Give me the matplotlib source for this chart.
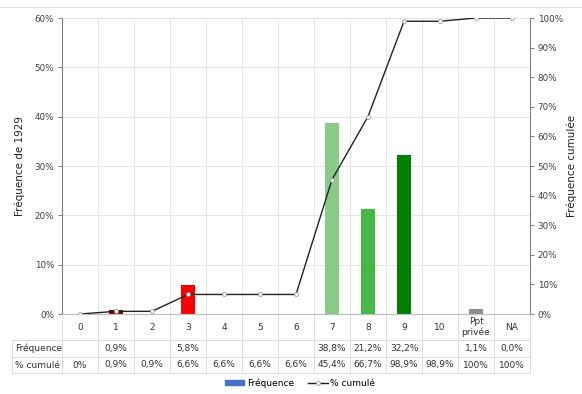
import matplotlib
matplotlib.use("Agg")
import matplotlib.pyplot as plt
from matplotlib.transforms import blended_transform_factory
from matplotlib.lines import Line2D
from matplotlib.patches import Patch

categories = ["0", "1", "2", "3", "4", "5", "6", "7", "8", "9", "10", "Ppt\nprivée", "NA"]
freq = [None, 0.9, None, 5.8, None, None, None, 38.8, 21.2, 32.2, None, 1.1, 0.0]
cumul = [0.0, 0.9, 0.9, 6.6, 6.6, 6.6, 6.6, 45.4, 66.7, 98.9, 98.9, 100.0, 100.0]
freq_labels = ["", "0,9%", "", "5,8%", "", "", "", "38,8%", "21,2%", "32,2%", "", "1,1%", "0,0%"]
cumul_labels = ["0%", "0,9%", "0,9%", "6,6%", "6,6%", "6,6%", "6,6%", "45,4%", "66,7%", "98,9%", "98,9%", "100%", "100%"]
bar_colors = ["#ffffff", "#7f0000", "#ffffff", "#ff0000", "#ffffff", "#ffffff", "#ffffff",
              "#88cc88", "#44b844", "#008000", "#ffffff", "#8c8c8c", "#ffffff"]

W, H = 582, 394
fig = plt.figure(figsize=(W / 100, H / 100), dpi=100)
fig.patch.set_facecolor("white")
left, right, top, bottom = 62, 530, 18, 314
ax = fig.add_axes([left / W, (H - bottom) / H, (right - left) / W, (bottom - top) / H])
ax2 = ax.twinx()

n = len(categories)
xs = list(range(n))
ax.set_xlim(-0.5, n - 0.5)
ax.set_ylim(0, 60)
ax2.set_ylim(0, 100)

# grid
for v in range(10, 61, 10):
    ax.axhline(v, color="#e6e6e6", lw=0.7, zorder=0)
for b in range(n + 1):
    ax.axvline(b - 0.5, color="#e6e6e6", lw=0.7, zorder=0)

for x, f, c in zip(xs, freq, bar_colors):
    if f is not None and f > 0:
        ax.bar(x, f, width=0.4, color=c, zorder=2)

ax2.plot(xs, cumul, color="#222222", lw=1.0, marker="o", ms=2.8,
         mfc="white", mec="#999999", mew=0.6, zorder=3)

tick_kw = dict(labelsize=6.3, labelcolor="#404040", color="#808080", length=3, width=0.7, pad=2.5)
ax.set_yticks(range(0, 61, 10))
ax.set_yticklabels([f"{v}%" for v in range(0, 61, 10)])
ax.tick_params(axis="y", **tick_kw)
ax2.set_yticks(range(0, 101, 10))
ax2.set_yticklabels([f"{v}%" for v in range(0, 101, 10)])
ax2.tick_params(axis="y", **tick_kw)
ax.set_xticks([])
ax2.set_xticks([])

for a in (ax, ax2):
    a.spines["top"].set_visible(False)
    a.spines["bottom"].set_color("#bfbfbf")
    a.spines["bottom"].set_linewidth(0.8)
ax.spines["right"].set_visible(False)
ax.spines["left"].set_color("#808080")
ax2.spines["left"].set_visible(False)
ax2.spines["right"].set_color("#808080")
ax2.spines["top"].set_visible(False)

ax.set_ylabel("Fréquence de 1929", fontsize=7.5, color="#222222", labelpad=7)
ax2.set_ylabel("Fréquence cumulée", fontsize=7.5, color="#222222", labelpad=3)

# data table
tr = blended_transform_factory(ax.transData, ax.transAxes)
ph = bottom - top
def yfrac(py):
    return -(py - bottom) / ph
y_rows = [yfrac(314), yfrac(340), yfrac(357), yfrac(373)]
x_left = -0.5 - (left - 12) / ((right - left) / n)
grid_c = "#dcdcdc"
for yy in y_rows[1:]:
    ax.plot([x_left, n - 0.5], [yy, yy], color=grid_c, lw=0.7, transform=tr, clip_on=False)
for b in range(n + 1):
    ax.plot([b - 0.5, b - 0.5], [y_rows[0], y_rows[3]], color=grid_c, lw=0.7, transform=tr, clip_on=False)
ax.plot([x_left, x_left], [y_rows[1], y_rows[3]], color=grid_c, lw=0.7, transform=tr, clip_on=False)

txt_kw = dict(fontsize=6.5, color="#333333", transform=tr, clip_on=False, va="center")
for x, lab, fl, cl in zip(xs, categories, freq_labels, cumul_labels):
    ax.text(x, (y_rows[0] + y_rows[1]) / 2, lab, ha="center", linespacing=1.3, **txt_kw)
    ax.text(x, (y_rows[1] + y_rows[2]) / 2, fl, ha="center", **txt_kw)
    ax.text(x, (y_rows[2] + y_rows[3]) / 2, cl, ha="center", **txt_kw)
ax.text(x_left + 0.08, (y_rows[1] + y_rows[2]) / 2, "Fréquence", ha="left", **txt_kw)
ax.text(x_left + 0.08, (y_rows[2] + y_rows[3]) / 2, "% cumulé", ha="left", **txt_kw)

# legend
handles = [Patch(color="#4472c4", label="Fréquence"),
           Line2D([0], [0], color="#222222", lw=1.0, marker="o", ms=2.8, mfc="white",
                  mec="#999999", mew=0.6, label="% cumulé")]
fig.legend(handles=handles, loc="center", bbox_to_anchor=(300 / W, 1 - 383 / H), ncol=2,
           frameon=False, fontsize=6.5, handlelength=2.2, handleheight=0.5,
           columnspacing=1.5, handletextpad=0.3)

fig.add_artist(Line2D([0, 1], [1 - 7 / H, 1 - 7 / H], color="#e0e0e0", lw=0.8, transform=fig.transFigure))

fig.savefig("out.png", dpi=100)
